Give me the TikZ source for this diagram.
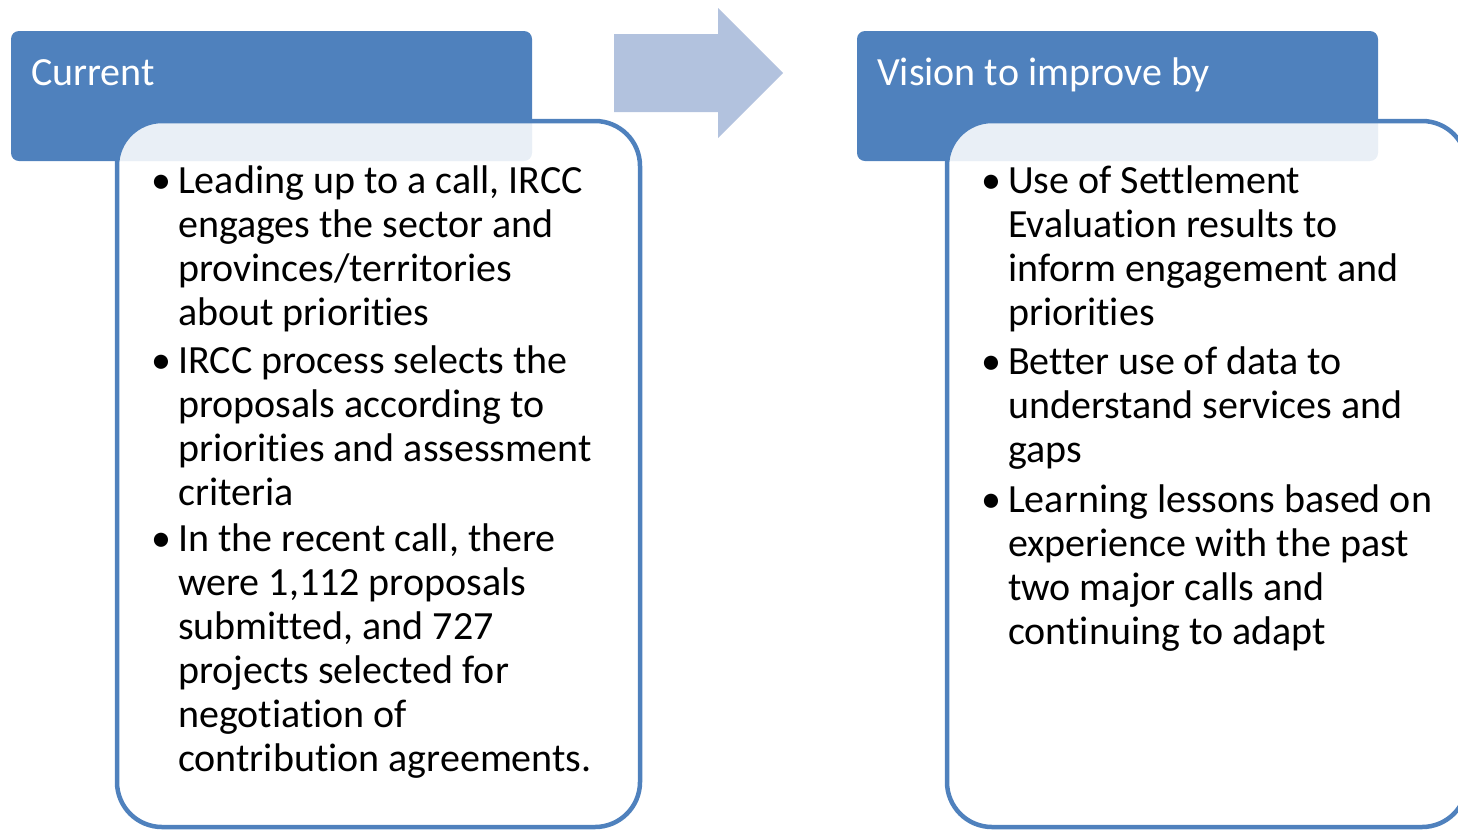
\documentclass[tikz,border=0pt]{standalone}
\usepackage{fontspec}
\setmainfont{Carlito}[Ligatures={NoCommon,NoRequired,NoContextual,NoRare}]
\definecolor{hdrblue}{HTML}{4F81BD}
\definecolor{arrowblue}{HTML}{B2C2DE}
\tikzset{
  header/.style={fill=hdrblue, rounded corners=8pt, inner sep=0pt, outer sep=0pt,
    anchor=north west, minimum width=521pt, minimum height=130pt},
  hdrtext/.style={text=white, inner sep=0pt, anchor=base west,
    font=\fontsize{40}{44}\selectfont},
  bodybox/.style={draw=hdrblue, line width=4.5pt, fill=white, fill opacity=0.88,
    rounded corners=45pt, inner sep=0pt, outer sep=0pt, anchor=north west,
    minimum height=706pt},
  item/.style={inner sep=0pt, anchor=base west, text=black,
    font=\fontsize{40}{44}\selectfont},
}
\newcommand{\bul}{\makebox[0pt][r]{\textbullet\hspace{7pt}}}
\newcommand{\itemtext}[1]{\parbox[t]{470pt}{\raggedright #1}}
\begin{document}
\begin{tikzpicture}[x=1pt,y=-1pt]
  \useasboundingbox (0,0) rectangle (1458,831);

  % transition arrow
  \fill[arrowblue] (614,34) -- (718,34) -- (718,8) -- (783,73)
    -- (718,138) -- (718,112) -- (614,112) -- cycle;

  % left panel
  \node[header] (curhdr) at (11,31) {};
  \node[hdrtext] (curtitle) at (31,85) {Current};
  \node[bodybox, minimum width=523pt] (curbody) at (117,121) {};
  \node[item] (c1) at (178,193) {\itemtext{\bul Leading up to a call, IRCC\\
    engages the sector and\\ provinces/territories\\ about priorities}};
  \node[item] (c2) at (178,373) {\itemtext{\bul IRCC process selects the\\
    proposals according to\\ priorities and assessment\\ criteria}};
  \node[item] (c3) at (178,551.5) {\itemtext{\bul In the recent call, there\\
    were 1,112 proposals\\ submitted, and 727\\ projects selected for\\
    negotiation of\\ contribution agreements.}};

  % right panel
  \node[header] (vishdr) at (857,31) {};
  \node[hdrtext] (vistitle) at (877,85) {Vision to improve by};
  \node[bodybox, minimum width=520pt] (visbody) at (947,121) {};
  \node[item] (v1) at (1008,193) {\itemtext{\bul Use of Settlement\\
    Evaluation results to\\ inform engagement and\\ priorities}};
  \node[item] (v2) at (1008,374) {\itemtext{\bul Better use of data to\\
    understand services and\\ gaps}};
  \node[item] (v3) at (1008,512) {\itemtext{\bul Learning lessons based on\\
    experience with the past\\ two major calls and\\ continuing to adapt}};
\end{tikzpicture}
\end{document}
